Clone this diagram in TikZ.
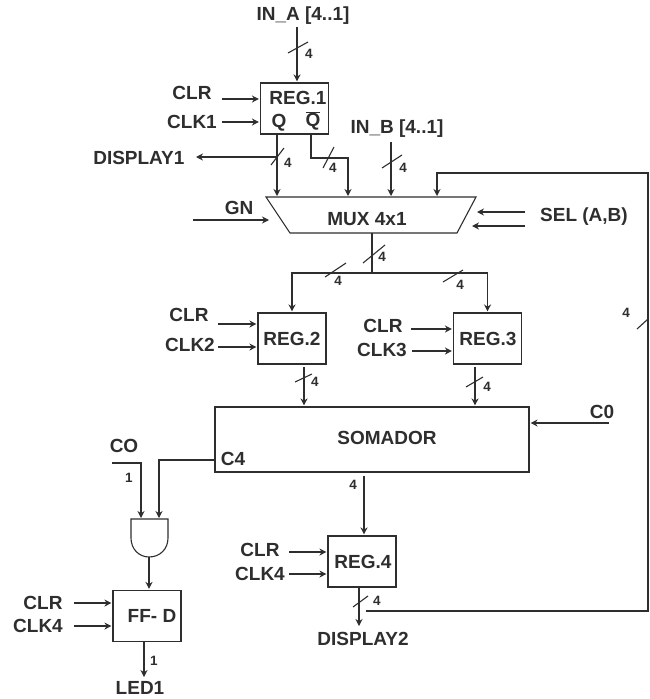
\documentclass[tikz,border=0pt]{standalone}
\usepackage{fontspec}
\setmainfont{Liberation Sans}
\usepackage{tikz}
\usetikzlibrary{positioning, arrows.meta}

\begin{document}
\begin{tikzpicture}[
        x=1pt, y=-1pt,
        color=black!82,
        line width=1.1pt,
        >={Stealth[length=7pt,width=7pt]},
        txt/.style={inner sep=0pt, font=\fontsize{19}{21}\selectfont\bfseries},
        small/.style={inner sep=0pt, font=\fontsize{13.5}{14}\selectfont\bfseries},
        regbox/.style={draw, minimum width=68pt, minimum height=51pt, inner sep=0pt},
        sig/.style={->, shorten >=1pt}
        ]
        \useasboundingbox (0,0) rectangle (649,699);

        % Blocks
        \node (reg1) [regbox] at (294.5,108.5) {};
        \node (reg2) [regbox] at (292,338.5) {};
        \node (reg3) [regbox] at (487.5,338.5) {};
        \node (reg4) [regbox] at (362,561.5) {};
        \node (ffd) [regbox] at (147,616) {};
        \node (somador) [draw, minimum width=314pt, minimum height=65pt, inner sep=0pt] at (372,439.5) {};
        \coordinate (muxtl) at (266,197);
        \coordinate (muxtr) at (476,197);
        \coordinate (muxbr) at (457,233);
        \coordinate (muxbl) at (290,233);
        \draw (muxtl) -- (muxtr) -- (muxbr) -- (muxbl) -- cycle;

        % Block texts
        \node (reg1txt) [txt] at (298,98) {REG.1};
        \node (qtxt) [txt] at (279,123) {Q};
        \node (qbartxt) [txt] at (313,121) {$\overline{\mbox{Q}}$};
        \node (muxtxt) [txt] at (367,219) {MUX 4x1};
        \node (reg2txt) [txt] at (292,339) {REG.2};
        \node (reg3txt) [txt] at (488,339) {REG.3};
        \node (reg4txt) [txt] at (363,562) {REG.4};
        \node (fftxt) [txt] at (152,616) {FF- D};
        \node (somtxt) [txt] at (387,438) {SOMADOR};
        \node (c4txt) [txt] at (233,459) {C4};

        % Outside labels
        \node (ina) [txt] at (303,16) {IN\_A [4..1]};
        \node (inb) [txt] at (397,129) {IN\_B [4..1]};
        \node (clr1) [txt] at (192,93) {CLR};
        \node (clk1) [txt] at (192,122) {CLK1};
        \node (disp1) [txt, anchor=east] at (185,158) {DISPLAY1};
        \node (gn) [txt] at (239,208) {GN};
        \node (sel) [txt] at (584,217) {SEL (A,B)};
        \node (clr2) [txt] at (189,315) {CLR};
        \node (clk2) [txt] at (190,345) {CLK2};
        \node (clr3) [txt] at (383,326) {CLR};
        \node (clk3) [txt] at (382,350) {CLK3};
        \node (c0) [txt] at (602,412) {C0};
        \node (co) [txt] at (124,446) {CO};
        \node (clr4) [txt] at (260,550) {CLR};
        \node (clk4) [txt] at (260,574) {CLK4};
        \node (clr5) [txt] at (43,603) {CLR};
        \node (clk5) [txt] at (38,626) {CLK4};
        \node (disp2) [txt] at (363,639) {DISPLAY2};
        \node (led1) [txt] at (140,688) {LED1};

        % Free ends and corners
        \coordinate (inaout) at (297,27);
        \coordinate (inbout) at (391,142);
        \coordinate (qout) at (277,134);
        \coordinate (qbarout) at (311,134);
        \coordinate (qbarbend) at (348,158);
        \coordinate (clr1a) at (222,99);
        \coordinate (clk1a) at (222,122);
        \coordinate (gna) at (193,220);
        \coordinate (gnb) at (270,220);
        \coordinate (sela) at (525,212);
        \coordinate (selb) at (525,226);
        \coordinate (selc) at (476,212);
        \coordinate (seld) at (471,226);
        \coordinate (muxout) at (372,233);
        \coordinate (tee) at (372,273);
        \coordinate (clr2a) at (218,324);
        \coordinate (clk2a) at (218,347);
        \coordinate (clr3a) at (411,329);
        \coordinate (clk3a) at (412,351);
        \coordinate (reg2out) at (304,367);
        \coordinate (reg3out) at (475,367);
        \coordinate (c0a) at (609,423);
        \coordinate (c4a) at (215,460);
        \coordinate (somout) at (364,476);
        \coordinate (clr4a) at (289,552);
        \coordinate (clk4a) at (289,574);
        \coordinate (reg4out) at (359,587);
        \coordinate (disp2in) at (359,627);
        \coordinate (backa) at (366,611);
        \coordinate (backb) at (648,173);
        \coordinate (backc) at (437,197);
        \coordinate (coa) at (112,463);
        \coordinate (andl) at (131,519);
        \coordinate (andr) at (168,519);
        \coordinate (andout) at (149,557);
        \coordinate (cob) at (141,519);
        \coordinate (c4b) at (159,519);
        \coordinate (clr5a) at (74,603);
        \coordinate (clk5a) at (74,626);
        \coordinate (ffout) at (144,641);
        \coordinate (led1in) at (144,678);
        \coordinate (disp1a) at (277,157);
        \coordinate (disp1b) at (195,157);

        % AND gate
        \draw (andl) -- (andr) -- (168,538) .. controls (168,549) and (160,557) .. (andout)
            .. controls (139,557) and (131,549) .. (131,538) -- cycle;

        % Arrows
        \draw[sig] (inaout) -- (reg1.north -| inaout);
        \draw[sig] (clr1a) -- (reg1.west |- clr1a);
        \draw[sig] (clk1a) -- (reg1.west |- clk1a);
        \draw[sig] (qout) -- (muxtl -| qout);
        \draw[sig] (disp1a) -- (disp1b);
        \draw[sig] (qbarout) |- (qbarbend) -- (muxtl -| qbarbend);
        \draw[sig] (inbout) -- (muxtl -| inbout);
        \draw[sig] (gna) -- (gnb);
        \draw[sig] (sela) -- (selc);
        \draw[sig] (selb) -- (seld);
        \draw (muxout) -- (tee);
        \draw[sig] (tee) -| (reg2.north);
        \draw[sig] (tee) -| (reg3.north);
        \draw[sig] (clr2a) -- (reg2.west |- clr2a);
        \draw[sig] (clk2a) -- (reg2.west |- clk2a);
        \draw[sig] (clr3a) -- (reg3.west |- clr3a);
        \draw[sig] (clk3a) -- (reg3.west |- clk3a);
        \draw[sig] (reg2out) -- (somador.north -| reg2out);
        \draw[sig] (reg3out) -- (somador.north -| reg3out);
        \draw[sig] (c0a) -- (somador.east |- c0a);
        \draw[sig] (somout) -- (reg4.north -| somout);
        \draw[sig] (clr4a) -- (reg4.west |- clr4a);
        \draw[sig] (clk4a) -- (reg4.west |- clk4a);
        \draw[sig] (reg4out) -- (disp2in);
        \draw[sig] (backa) -| (backb) -| (backc);
        \draw[sig] (coa) -| (cob);
        \draw[sig] (c4a) -| (c4b);
        \draw[sig] (andout) -- (ffd.north -| andout);
        \draw[sig] (clr5a) -- (ffd.west |- clr5a);
        \draw[sig] (clk5a) -- (ffd.west |- clk5a);
        \draw[sig] (ffout) -- (led1in);

        % Bus marks
        \draw (288,53) -- (308,42);
        \draw (271,165) -- (284,148);
        \draw (323,168) -- (334,147);
        \draw (382,168) -- (402,155);
        \draw (363,263) -- (385,245);
        \draw (325,277) -- (346,263);
        \draw (443,282) -- (463,270);
        \draw (295,382) -- (312,374);
        \draw (466,387) -- (483,377);
        \draw (353,607) -- (368,596);
        \draw (637,329) -- (648,319);

        % Bus widths
        \node (w1) [small] at (309,54) {4};
        \node (w2) [small] at (288,163) {4};
        \node (w3) [small] at (333,168) {4};
        \node (w4) [small] at (403,168) {4};
        \node (w5) [small] at (382,257) {4};
        \node (w6) [small] at (338,281) {4};
        \node (w7) [small] at (460,285) {4};
        \node (w8) [small] at (315,382) {4};
        \node (w9) [small] at (487,387) {4};
        \node (w10) [small] at (353,485) {4};
        \node (w11) [small] at (377,601) {4};
        \node (w12) [small] at (626,313) {4};
        \node (w13) [small] at (129,478) {1};
        \node (w14) [small] at (154,661) {1};
    \end{tikzpicture}
\end{document}
